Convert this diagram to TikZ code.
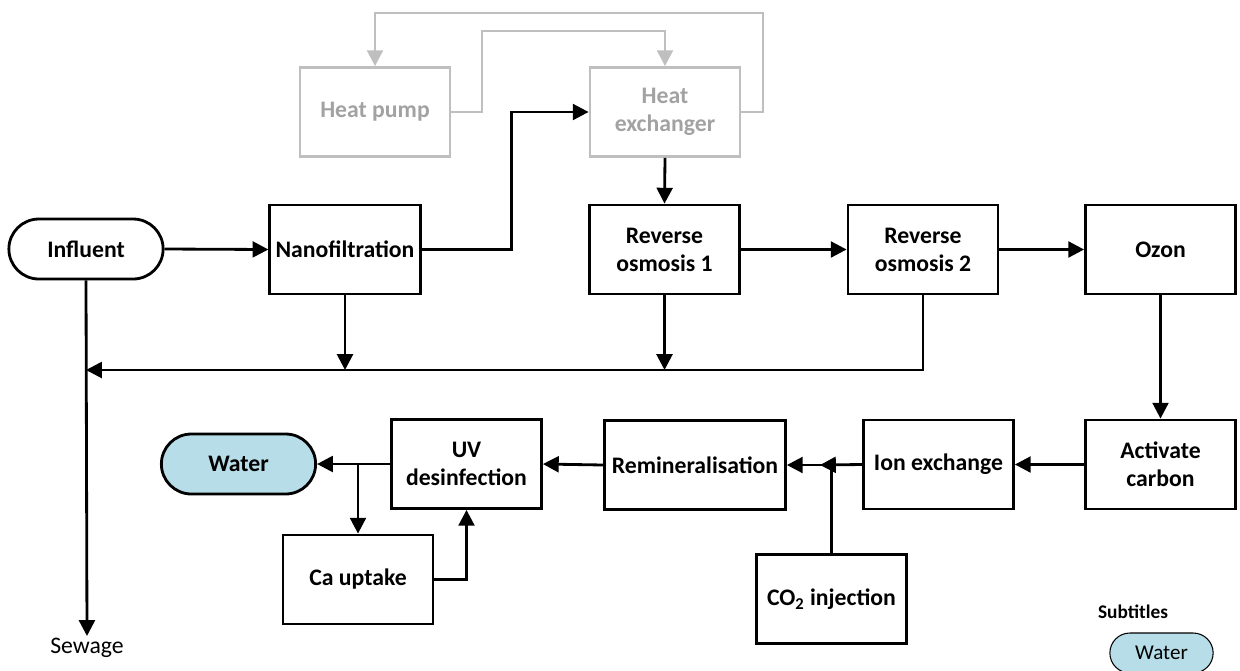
\documentclass[tikz,border=0pt]{standalone}
\usepackage{fontspec}
\setmainfont{Carlito}
\usepackage{tikz}
\usetikzlibrary{positioning, arrows.meta, shapes.misc}
\definecolor{lblue}{HTML}{B7DDE8}
\definecolor{hgray}{HTML}{BFBFBF}

\begin{document}
\begin{tikzpicture}[x=0.02cm, y=-0.02cm,
  box/.style={draw, line width=1.6pt, minimum width=3.0cm, minimum height=1.78cm, align=center, font=\fontsize{13.5}{16}\selectfont\bfseries},
  term/.style={box, rounded rectangle, minimum width=3.32cm, minimum height=1.2cm},
  heatbox/.style={box, draw=hgray, text=hgray!85!black},
  arr/.style={-{Triangle[length=9pt,width=9pt]}, line width=1.6pt},
  grayarr/.style={arr, color=hgray}]
\useasboundingbox (0,0) rectangle (1240,670);
% heat recovery
\node[heatbox] (hp) at (375,112) {Heat pump};
\node[heatbox] (hx) at (665,112) {Heat\\exchanger};
% treatment line
\node[term] (influent) at (86,249) {Influent};
\node[box] (nano) at (345,249.5) {Nanofiltration};
\node[box] (ro1) at (664.5,249.5) {Reverse\\osmosis 1};
\node[box] (ro2) at (923,249.5) {Reverse\\osmosis 2};
\node[box] (ozon) at (1160.5,249.5) {Ozon};
\node[box] (carbon) at (1160.5,464.5) {Activate\\carbon};
\node[box] (ion) at (938.5,464.5) {Ion exchange};
\node[box, minimum width=3.62cm] (remin) at (695,465) {Remineralisation};
\node[box] (co2) at (831.5,599) {CO\textsubscript{2} injection};
\node[box] (uv) at (466.5,464) {UV\\desinfection};
\node[box] (ca) at (358,579.5) {Ca uptake};
\node[term, fill=lblue] (water) at (238.5,464) {Water};
\node[anchor=north, inner sep=1pt, font=\fontsize{13.5}{16}\selectfont] (sewage) at (87,636) {Sewage};
% legend
\node[font=\fontsize{11}{13}\selectfont\bfseries] (subt) at (1133,612) {Subtitles};
\node[draw, line width=0.6pt, rounded rectangle, fill=lblue, minimum width=2.3cm, minimum height=0.8cm, font=\fontsize{12}{14}\selectfont] (legwater) at (1161.5,653) {Water};
% heat loops
\draw[grayarr] (hx.east) -| (763,13) -| (hp.north);
\draw[grayarr] (hp.east) -| (482,31) -| (hx.north);
% main flow
\draw[arr] (influent.east) -- (nano.west);
\draw[arr] (nano.east) -- ++(90,0) |- (hx.west);
\draw[arr] (hx.south) -- (ro1.north);
\draw[arr] (ro1.east) -- (ro2.west);
\draw[arr] (ro2.east) -- (ozon.west);
\draw[arr] (ozon.south) -- (carbon.north);
\draw[arr] (carbon.west) -- (ion.east);
\coordinate (mix) at (820,465);
\draw[arr] (ion.west) -- (mix);
\draw[arr] (co2.north) |- (remin.east);
\draw[arr] (remin.west) -- (uv.east);
\draw[arr] (uv.west) -- (water.east);
\coordinate (split) at (ca.north |- uv.west);
\draw[arr] (split) -- (ca.north);
\draw[arr] (ca.east) -| (uv.south);
% concentrate to sewage
\coordinate (drain) at (influent.south |- 0,370);
\draw[arr] (influent.south) -- (sewage.north);
\draw[arr] (ro2.south) |- (drain);
\draw[arr] (nano.south) -- (nano.south |- drain);
\draw[arr] (ro1.south) -- (ro1.south |- drain);
\end{tikzpicture}
\end{document}
